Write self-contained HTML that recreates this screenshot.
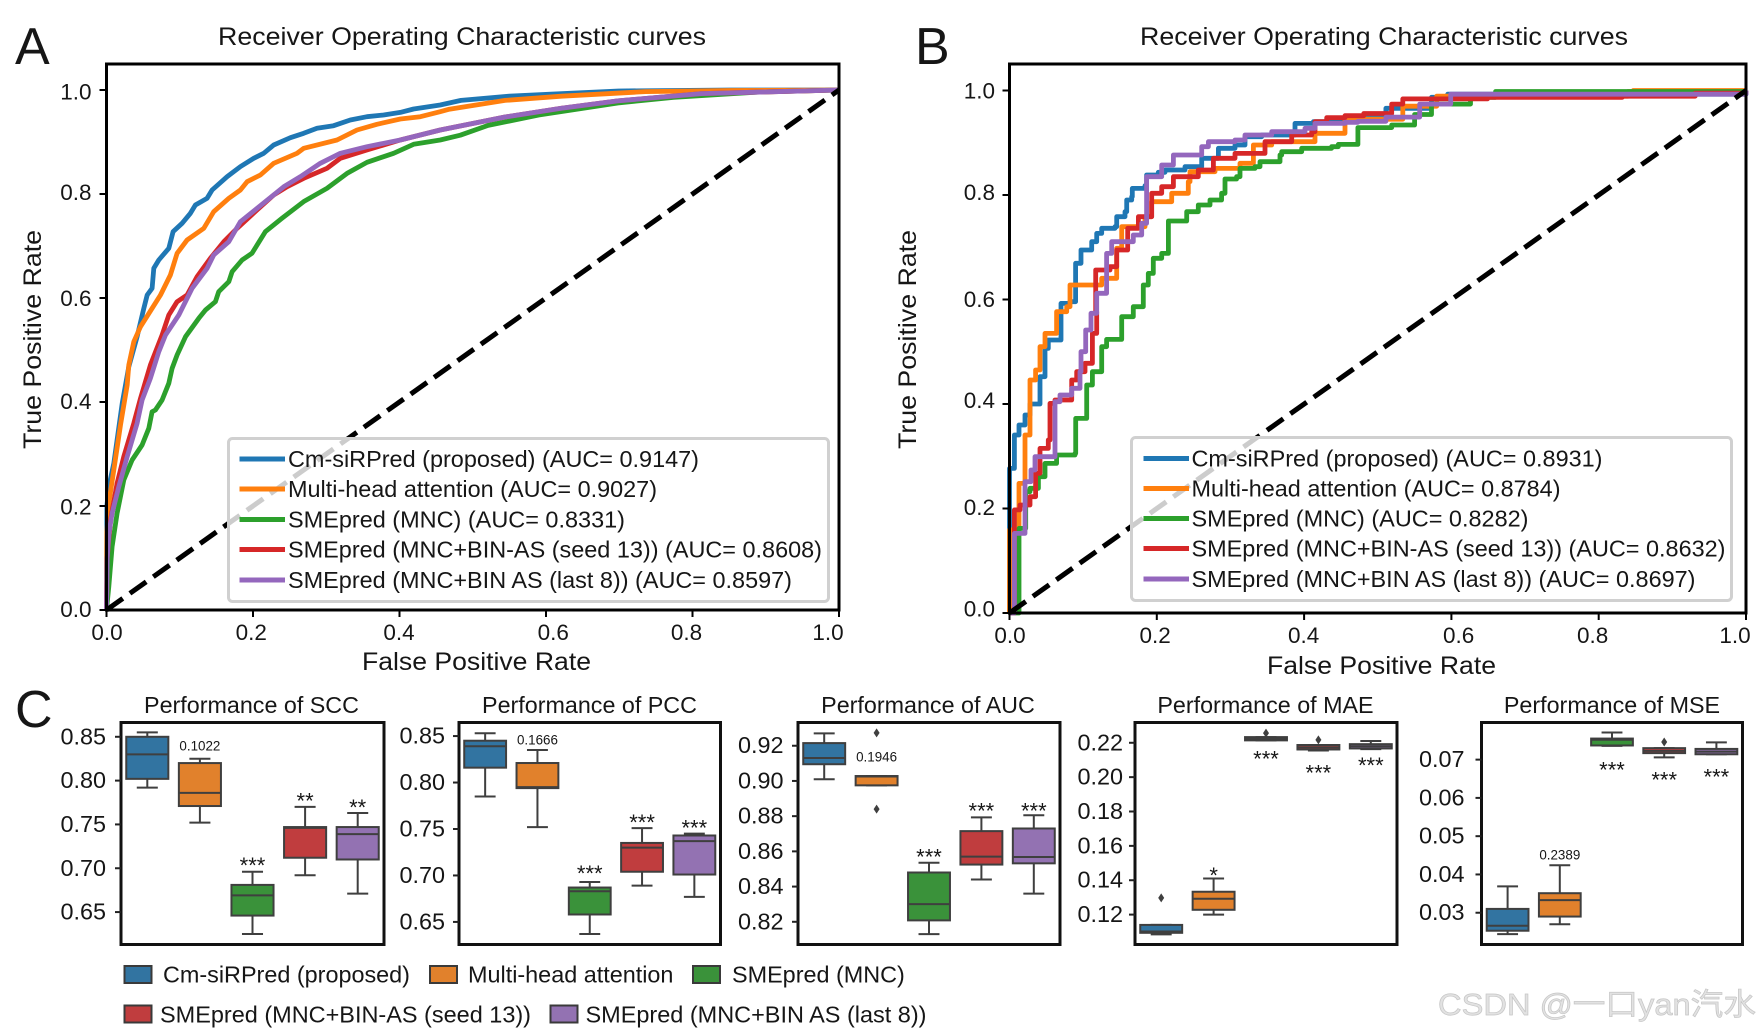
<!DOCTYPE html>
<html lang="en">
<head>
<meta charset="utf-8">
<title>ROC curves and performance boxplots</title>
<style>
html,body{margin:0;padding:0;background:#fff;}
svg{display:block;filter:blur(0.35px);}
text{font-family:"Liberation Sans","Noto Sans CJK SC",sans-serif;fill:#161616;}
</style>
</head>
<body>
<svg id="figure" xmlns="http://www.w3.org/2000/svg" width="1762" height="1034" viewBox="0 0 1762 1034">
<rect x="0" y="0" width="1762" height="1034" fill="#fff"/>

<text x="15" y="64" font-size="52">A</text>
<text x="915" y="64" font-size="52">B</text>
<text x="15" y="727" font-size="52">C</text>

<g id="panel-a">
  <text x="218" y="45" font-size="25" textLength="488" lengthAdjust="spacingAndGlyphs">Receiver Operating Characteristic curves</text>
  <text x="362" y="670" font-size="25" textLength="229" lengthAdjust="spacingAndGlyphs">False Positive Rate</text>
  <text transform="translate(41,449) rotate(-90)" font-size="25" textLength="219" lengthAdjust="spacingAndGlyphs">True Positive Rate</text>
  <g id="plot-a"></g>
  <g>
    <rect x="228.5" y="438.5" width="600" height="163" rx="4" fill="#fff" fill-opacity="0.8" stroke="#d0d0d0" stroke-width="3"/>
    <line x1="239.5" x2="285" y1="459" y2="459" stroke="#1f77b4" stroke-width="5"/>
    <text x="288" y="467" font-size="23" textLength="411" lengthAdjust="spacingAndGlyphs">Cm-siRPred (proposed) (AUC= 0.9147)</text>
    <line x1="239.5" x2="285" y1="489" y2="489" stroke="#ff7f0e" stroke-width="5"/>
    <text x="288" y="497" font-size="23" textLength="369" lengthAdjust="spacingAndGlyphs">Multi-head attention (AUC= 0.9027)</text>
    <line x1="239.5" x2="285" y1="519.5" y2="519.5" stroke="#2ca02c" stroke-width="5"/>
    <text x="288" y="527.5" font-size="23" textLength="337" lengthAdjust="spacingAndGlyphs">SMEpred (MNC) (AUC= 0.8331)</text>
    <line x1="239.5" x2="285" y1="549.5" y2="549.5" stroke="#d62728" stroke-width="5"/>
    <text x="288" y="557.5" font-size="23" textLength="534" lengthAdjust="spacingAndGlyphs">SMEpred (MNC+BIN-AS (seed 13)) (AUC= 0.8608)</text>
    <line x1="239.5" x2="285" y1="580" y2="580" stroke="#9467bd" stroke-width="5"/>
    <text x="288" y="588" font-size="23" textLength="504" lengthAdjust="spacingAndGlyphs">SMEpred (MNC+BIN AS (last 8)) (AUC= 0.8597)</text>
  </g>
</g>

<g id="panel-b">
  <text x="1140" y="45" font-size="25" textLength="488" lengthAdjust="spacingAndGlyphs">Receiver Operating Characteristic curves</text>
  <text x="1267" y="674" font-size="25" textLength="229" lengthAdjust="spacingAndGlyphs">False Positive Rate</text>
  <text transform="translate(916,449) rotate(-90)" font-size="25" textLength="219" lengthAdjust="spacingAndGlyphs">True Positive Rate</text>
  <g id="plot-b"></g>
  <g>
    <rect x="1131.5" y="437.5" width="600" height="163" rx="4" fill="#fff" fill-opacity="0.8" stroke="#d0d0d0" stroke-width="3"/>
    <line x1="1143.5" x2="1189" y1="458.5" y2="458.5" stroke="#1f77b4" stroke-width="5"/>
    <text x="1191.5" y="466.5" font-size="23" textLength="411" lengthAdjust="spacingAndGlyphs">Cm-siRPred (proposed) (AUC= 0.8931)</text>
    <line x1="1143.5" x2="1189" y1="488.5" y2="488.5" stroke="#ff7f0e" stroke-width="5"/>
    <text x="1191.5" y="496.5" font-size="23" textLength="369" lengthAdjust="spacingAndGlyphs">Multi-head attention (AUC= 0.8784)</text>
    <line x1="1143.5" x2="1189" y1="518.5" y2="518.5" stroke="#2ca02c" stroke-width="5"/>
    <text x="1191.5" y="526.5" font-size="23" textLength="337" lengthAdjust="spacingAndGlyphs">SMEpred (MNC) (AUC= 0.8282)</text>
    <line x1="1143.5" x2="1189" y1="548.5" y2="548.5" stroke="#d62728" stroke-width="5"/>
    <text x="1191.5" y="556.5" font-size="23" textLength="534" lengthAdjust="spacingAndGlyphs">SMEpred (MNC+BIN-AS (seed 13)) (AUC= 0.8632)</text>
    <line x1="1143.5" x2="1189" y1="579" y2="579" stroke="#9467bd" stroke-width="5"/>
    <text x="1191.5" y="587" font-size="23" textLength="504" lengthAdjust="spacingAndGlyphs">SMEpred (MNC+BIN AS (last 8)) (AUC= 0.8697)</text>
  </g>
</g>

<g id="panel-c">
  <text x="251.5" y="713" font-size="23.3" text-anchor="middle">Performance of SCC</text>
  <text x="589.5" y="713" font-size="23.3" text-anchor="middle">Performance of PCC</text>
  <text x="928" y="713" font-size="23.3" text-anchor="middle">Performance of AUC</text>
  <text x="1265.5" y="713" font-size="23.3" text-anchor="middle">Performance of MAE</text>
  <text x="1612" y="713" font-size="23.3" text-anchor="middle">Performance of MSE</text>
  <g id="box-scc"></g>
  <g id="box-pcc"></g>
  <g id="box-auc"></g>
  <g id="box-mae"></g>
  <g id="box-mse"></g>
  <g>
    <rect x="124.5" y="966" width="27" height="17" fill="#3274a1" stroke="#3a3a3a" stroke-width="2"/>
    <text x="163" y="982.5" font-size="23.4">Cm-siRPred (proposed)</text>
    <rect x="430" y="966" width="27" height="17" fill="#e1812c" stroke="#3a3a3a" stroke-width="2"/>
    <text x="468" y="982.5" font-size="23.4">Multi-head attention</text>
    <rect x="693" y="966" width="27" height="17" fill="#3a923a" stroke="#3a3a3a" stroke-width="2"/>
    <text x="732" y="982.5" font-size="23.4">SMEpred (MNC)</text>
    <rect x="124.5" y="1005.5" width="27" height="17" fill="#c03d3e" stroke="#3a3a3a" stroke-width="2"/>
    <text x="160" y="1022.5" font-size="23.4" textLength="371" lengthAdjust="spacingAndGlyphs">SMEpred (MNC+BIN-AS (seed 13))</text>
    <rect x="550.5" y="1005.5" width="27" height="17" fill="#9372b2" stroke="#3a3a3a" stroke-width="2"/>
    <text x="585.5" y="1022.5" font-size="23.4" textLength="341" lengthAdjust="spacingAndGlyphs">SMEpred (MNC+BIN AS (last 8))</text>
  </g>
</g>

<text x="1438" y="1015" font-size="30.5" textLength="318" lengthAdjust="spacingAndGlyphs" style="fill:#e2e2e2;stroke:#c6c6c6;stroke-width:0.7;">CSDN @一口yan汽水</text>
</svg>

<script>
// ---------- ROC tick labels ----------
const rocTickLabels = ['0.0', '0.2', '0.4', '0.6', '0.8', '1.0'];
const rocTickValues = [0, 0.2, 0.4, 0.6, 0.8, 1];

// ---------- ROC panel A ----------
const aBlueFpr = [0,.0005,.0032,.01,.0214,.0305,.0418,.0509,.0555,.0623,.0646,.0714,.085,.0909,.1032,.1146,.1214,.1373,.1441,.1646,.1828,.201,.2146,.2283,.251,.2692,.2874,.3101,.3329,.3556,.3783,.4011,.4192,.4556,.484,.55,.607,.699,.852,1];
const aBlueTpr = [0,.2,.2372,.282,.3974,.4679,.5256,.58,.6058,.6186,.6571,.6731,.6955,.7276,.7436,.7628,.7788,.7917,.8077,.8333,.8526,.8686,.8782,.8942,.9083,.9167,.9263,.9314,.9423,.9487,.9519,.957,.9634,.9712,.98,.988,.992,.998,1,1];
const aOrangeFpr = [0,.0005,.0032,.01,.0191,.0282,.0305,.0373,.0464,.0623,.0737,.0873,.0964,.11,.1328,.1464,.1669,.1828,.1919,.2101,.2283,.2601,.2692,.3147,.342,.3692,.4011,.4284,.4556,.468,.544,.621,.736,.851,1];
const aOrangeTpr = [0,.15,.2052,.2692,.3558,.4327,.4711,.516,.5449,.5801,.6058,.6442,.6859,.7115,.734,.766,.7917,.8077,.8237,.8365,.859,.8782,.8878,.9038,.923,.934,.9442,.9487,.9583,.963,.98,.988,.997,.999,1];
const aGreenFpr = [0,.0032,.0077,.0145,.0236,.035,.0486,.0577,.0623,.0668,.0759,.085,.0896,.0964,.1078,.126,.1351,.1487,.1532,.1669,.1714,.1851,.1987,.2169,.2396,.2692,.301,.3283,.3556,.392,.4192,.4556,.483,.521,.59,.698,.774,.889,1];
const aGreenTpr = [0,.0449,.1218,.186,.25,.2885,.3173,.3494,.3814,.3846,.4038,.4359,.4647,.4904,.5256,.5609,.5769,.5929,.6122,.6314,.6506,.6731,.6859,.7276,.7532,.7853,.8109,.8397,.8609,.8782,.8955,.9038,.913,.932,.952,.975,.986,.996,1];
const aRedFpr = [0,.0009,.0054,.0145,.0236,.0373,.0464,.06,.0759,.085,.0964,.11,.1237,.1419,.1601,.1783,.2055,.2283,.2465,.2692,.301,.3192,.3556,.4011,.4556,.544,.621,.698,.812,1];
const aRedTpr = [0,.1,.1731,.2436,.295,.359,.407,.4711,.5288,.5673,.5929,.6058,.641,.6763,.7083,.734,.7692,.798,.8141,.8301,.8494,.8686,.8846,.9038,.923,.948,.965,.979,.993,1];
const aPurpleFpr = [0,.0009,.0036,.0077,.0168,.0282,.0418,.0486,.06,.0714,.0805,.0987,.1169,.1373,.1464,.1669,.1828,.2055,.242,.2646,.2919,.3192,.3556,.4011,.4556,.544,.621,.698,.812,1];
const aPurpleTpr = [0,.1,.15,.1859,.2372,.295,.359,.4038,.4455,.4968,.5288,.5673,.6186,.6571,.6827,.7083,.7468,.7724,.8141,.8333,.859,.8782,.891,.9038,.923,.948,.965,.979,.993,1];

// ---------- ROC panel B ----------
const bBlueFpr = [0,0,.0066,.0129,.0211,.0279,.0414,.0482,.0482,.0527,.0699,.0822,.0898,.0898,.0971,.0971,.1116,.1116,.1184,.1252,.1433,.1455,.1568,.1591,.1659,.1668,.184,.1862,.2021,.2111,.2383,.2609,.2836,.3062,.3198,.3424,.3877,.3877,.4126,.4555,.481,.511,.573,.595,1];
const bBlueTpr = [0,.2768,.3406,.3598,.3789,.4,.4523,.4523,.5065,.5225,.5926,.5958,.6213,.6692,.6756,.6947,.6979,.7107,.7266,.7362,.7394,.7585,.7681,.7904,.7968,.8127,.8178,.8383,.8434,.8478,.8542,.8702,.8893,.8957,.9116,.9148,.9308,.9371,.9403,.9467,.949,.966,.987,.993,1];
const bOrangeFpr = [0,0,.0129,.0211,.0279,.0355,.0414,.0482,.064,.0776,.0822,.1161,.1252,.1455,.1455,.1523,.184,.193,.2202,.2428,.2451,.279,.3107,.313,.3311,.3311,.356,.3831,.4148,.4555,.481,.534,.58,.84,.847,1];
const bOrangeTpr = [0,.159,.2481,.3406,.4459,.465,.5097,.5352,.5767,.5862,.6277,.6277,.6405,.6469,.6979,.7394,.7585,.7872,.8032,.8255,.8446,.851,.851,.8606,.8638,.8957,.902,.902,.918,.9435,.945,.97,.989,.998,1,1];
const bGreenFpr = [0,.0129,.022,.022,.0279,.0392,.0482,.064,.089,.0899,.1048,.1048,.1125,.1252,.1252,.1319,.1523,.1523,.1681,.1681,.1817,.1817,.1885,.1885,.1953,.2066,.2157,.2157,.236,.2406,.2564,.2564,.2722,.288,.2926,.3084,.313,.3333,.3401,.3673,.3696,.3967,.4374,.4465,.473,.473,.519,.55,.573,.626,.66,1];
const bGreenTpr = [0,.162,.1875,.2322,.2386,.2609,.2864,.3023,.3055,.3725,.3821,.4363,.4618,.4618,.5097,.5237,.5352,.5671,.5671,.5862,.5894,.6277,.6277,.65,.6788,.6883,.6979,.7502,.7502,.7681,.7713,.7808,.7904,.8032,.8306,.8351,.851,.8542,.8638,.8765,.8829,.8893,.8925,.8969,.901,.929,.934,.954,.974,.987,.998,1];
const bRedFpr = [0,.0066,.0066,.0143,.0279,.0355,.0355,.0414,.0527,.055,.0618,.0844,.0844,.0912,.1025,.1125,.1125,.1184,.1184,.117,.1365,.1455,.1605,.1605,.175,.1931,.2066,.2225,.2564,.2768,.3062,.3469,.3469,.3831,.4103,.4148,.4307,.4555,.481,.519,.534,.588,.649,.832,.931,1];
const bRedTpr = [0,0,.1973,.2067,.2226,.2226,.2673,.3151,.3311,.4012,.4076,.414,.4459,.4618,.4778,.5001,.5352,.5352,.5767,.6564,.6628,.6947,.7043,.7362,.7585,.8032,.8159,.8351,.8478,.8702,.8797,.8829,.902,.9148,.9212,.9403,.948,.9518,.956,.974,.984,.984,.987,.989,.995,1];
const bPurpleFpr = [0,.0066,.0066,.0211,.0211,.0292,.0346,.0618,.0618,.0686,.0844,.0957,.0971,.1034,.1107,.1184,.1184,.1319,.1319,.1387,.1681,.1795,.1862,.1862,.2066,.2066,.2225,.2225,.2609,.27,.3062,.3198,.356,.4012,.4148,.4555,.473,.511,.557,.599,1];
const bPurpleTpr = [0,0,.1524,.1971,.2513,.2736,.2992,.3151,.4044,.4172,.43,.4618,.5001,.5416,.5735,.5799,.6118,.6277,.6883,.7107,.7234,.7458,.7713,.8351,.8446,.8574,.8606,.8765,.8925,.902,.9052,.9148,.9212,.9276,.9371,.9391,.941,.949,.974,.993,1];

// ---------- Box plot categories ----------
const boxCategories = ['Cm-siRPred (proposed)', 'Multi-head attention', 'SMEpred (MNC)', 'SMEpred (MNC+BIN-AS (seed 13))', 'SMEpred (MNC+BIN AS (last 8))'];

// ---------- SCC ----------
const sccTicks = ['0.85', '0.80', '0.75', '0.70', '0.65'];
const sccRange = [.613, .8663];
const sccLow = [.792, .752, .625, .692, .671];
const sccQ1 = [.802, .771, .646, .712, .71];
const sccMedian = [.83, .786, .669, .746, .739];
const sccQ3 = [.85, .82, .681, .747, .747];
const sccHigh = [.855, .825, .696, .77, .763];
const sccFlierCats = [];
const sccFlierVals = [];
const sccNotes = ['', '0.1022', '***', '**', '**'];
const sccNoteAt = [0, .8398, .709, .7827, .7752];

// ---------- PCC ----------
const pccTicks = ['0.85', '0.80', '0.75', '0.70', '0.65'];
const pccRange = [.6257, .8646];
const pccLow = [.785, .752, .637, .689, .677];
const pccQ1 = [.816, .794, .658, .704, .701];
const pccMedian = [.839, .795, .683, .73, .737];
const pccQ3 = [.845, .821, .687, .735, .743];
const pccHigh = [.853, .835, .693, .751, .745];
const pccFlierCats = [];
const pccFlierVals = [];
const pccNotes = ['', '0.1666', '***', '***', '***'];
const pccNoteAt = [0, .846, .7076, .7625, .757];

// ---------- AUC ----------
const aucTicks = ['0.92', '0.90', '0.88', '0.86', '0.84', '0.82'];
const aucRange = [.8071, .9332];
const aucLow = [.901, .8975, .813, .844, .836];
const aucQ1 = [.9095, .8975, .8208, .8525, .8532];
const aucMedian = [.913, .9025, .83, .857, .8568];
const aucQ3 = [.9215, .9028, .848, .8715, .873];
const aucHigh = [.927, .9028, .8535, .8793, .8805];
const aucFlierCats = [1, 1];
const aucFlierVals = [.9273, .884];
const aucNotes = ['', '0.1946', '***', '***', '***'];
const aucNoteAt = [0, .9138, .8598, .8858, .8858];

// ---------- MAE ----------
const maeTicks = ['0.22', '0.20', '0.18', '0.16', '0.14', '0.12'];
const maeRange = [.1026, .2318];
const maeLow = [.1085, .12, .2214, .2155, .2163];
const maeQ1 = [.1094, .1228, .2214, .2161, .2167];
const maeMedian = [.1102, .1292, .2223, .2173, .218];
const maeQ3 = [.114, .1333, .2233, .2187, .2192];
const maeHigh = [.114, .141, .2233, .2187, .221];
const maeFlierCats = [0, 2, 3];
const maeFlierVals = [.1297, .2256, .2217];
const maeNotes = ['', '*', '***', '***', '***'];
const maeNoteAt = [0, .1457, .2136, .2055, .2098];

// ---------- MSE ----------
const mseTicks = ['0.07', '0.06', '0.05', '0.04', '0.03'];
const mseRange = [.0217, .0797];
const mseLow = [.0244, .027, .0736, .0706, .0714];
const mseQ1 = [.0253, .029, .0737, .0717, .0714];
const mseMedian = [.0266, .0333, .0752, .0723, .0721];
const mseQ3 = [.031, .0351, .0755, .073, .0728];
const mseHigh = [.0369, .0424, .0771, .073, .0745];
const mseFlierCats = [3];
const mseFlierVals = [.0746];
const mseNotes = ['', '0.2389', '***', '***', '***'];
const mseNoteAt = [0, .0452, .0687, .066, .0668];

const SVGNS = 'http://www.w3.org/2000/svg';
const rocColors = ['#1f77b4', '#ff7f0e', '#2ca02c', '#d62728', '#9467bd'];
const rocSeriesNames = ['proposed', 'attention', 'mnc', 'seed13', 'last8'];
const boxColors = ['#3274a1', '#e1812c', '#3a923a', '#c03d3e', '#9372b2'];
const LINE = '#3f3f3f';

function make(parent, tag, attrs, text) {
  const el = document.createElementNS(SVGNS, tag);
  for (const k in attrs) el.setAttribute(k, attrs[k]);
  if (text !== undefined) el.textContent = text;
  parent.appendChild(el);
  return el;
}
function linear(d0, d1, r0, r1) {
  return v => r0 + (v - d0) / (d1 - d0) * (r1 - r0);
}

function drawRoc(groupId, box, yLabelRight, xLabelBase, xLabelNudge, yLabelNudge, series, stepped) {
  const g = document.getElementById(groupId);
  const sx = linear(0, 1, box.left, box.right);
  const sy = linear(0, 1, box.zero, box.one);
  series.forEach((s, i) => {
    let d = 'M' + sx(s[0][0]).toFixed(1) + ' ' + sy(s[1][0]).toFixed(1);
    for (let k = 1; k < s[0].length; k++) {
      const px = sx(s[0][k]).toFixed(1);
      const py = sy(s[1][k]).toFixed(1);
      d += stepped ? ' H' + px + ' V' + py : ' L' + px + ' ' + py;
    }
    const curve = make(g, 'path', { d: d, fill: 'none', stroke: rocColors[i], 'stroke-width': 4.8, 'stroke-linejoin': 'round' });
    
    
  });
  const diag = make(g, 'line', { x1: sx(0), y1: sy(0), x2: sx(1), y2: sy(1), stroke: '#000', 'stroke-width': 5, 'stroke-dasharray': '20 8.7' });
  
  
  const frame = make(g, 'rect', { x: box.left, y: box.top, width: box.right - box.left, height: box.zero - box.top, fill: 'none', stroke: '#000', 'stroke-width': 3 });
  
  
  rocTickValues.forEach((v, i) => {
    const xt = make(g, 'line', { x1: sx(v), x2: sx(v), y1: box.zero, y2: box.zero + 7, stroke: '#000', 'stroke-width': 2 });
    
    
    const yt = make(g, 'line', { x1: box.left - 7, x2: box.left, y1: sy(v), y2: sy(v), stroke: '#000', 'stroke-width': 2 });
    
    
    const xl = make(g, 'text', { x: sx(v) + xLabelNudge[i], y: xLabelBase, 'font-size': 22.5, 'text-anchor': 'middle' }, rocTickLabels[i]);
    
    
    const yl = make(g, 'text', { x: yLabelRight, y: sy(v) + 8 + yLabelNudge[i], 'font-size': 22.5, 'text-anchor': 'end' }, rocTickLabels[i]);
    
    
  });
}

function drawBoxes(groupId, box, labelRight, range, ticks, low, q1, median, q3, high, flierCats, flierVals, notes, noteAt) {
  const g = document.getElementById(groupId);
  const sy = linear(range[0], range[1], box.bottom, box.top);
  const sx = linear(-0.5, boxCategories.length - 0.5, box.left, box.right);
  const band = (box.right - box.left) / boxCategories.length;
  const hw = band * 0.4;
  const cap = band * 0.2;
  boxCategories.forEach((c, i) => {
    const cx = sx(i);
    const whisk = make(g, 'path', {
      d: 'M' + cx + ' ' + sy(high[i]) + ' V' + sy(q3[i]) + ' M' + cx + ' ' + sy(q1[i]) + ' V' + sy(low[i]) +
         ' M' + (cx - cap) + ' ' + sy(high[i]) + ' H' + (cx + cap) + ' M' + (cx - cap) + ' ' + sy(low[i]) + ' H' + (cx + cap),
      fill: 'none', stroke: LINE, 'stroke-width': 2
    });
    
    
    const r = make(g, 'rect', { x: cx - hw, y: sy(q3[i]), width: hw * 2, height: sy(q1[i]) - sy(q3[i]), fill: boxColors[i], stroke: LINE, 'stroke-width': 2 });
    
    
    const m = make(g, 'line', { x1: cx - hw, x2: cx + hw, y1: sy(median[i]), y2: sy(median[i]), stroke: LINE, 'stroke-width': 2 });
    
    
    if (notes[i]) {
      const isStar = notes[i].indexOf('*') === 0;
      const size = isStar ? 22 : 13.4;
      const t = make(g, 'text', { x: cx, y: sy(noteAt[i]) + (isStar ? 12.8 : 4.8), 'font-size': size, 'text-anchor': 'middle' }, notes[i]);
      
      
    }
  });
  flierCats.forEach((c, i) => {
    const cx = sx(c), cy = sy(flierVals[i]);
    const f = make(g, 'polygon', { points: [cx, cy - 4.5, cx + 3, cy, cx, cy + 4.5, cx - 3, cy].join(','), fill: LINE });
    
    
  });
  const frame = make(g, 'rect', { x: box.left, y: box.top, width: box.right - box.left, height: box.bottom - box.top, fill: 'none', stroke: '#111', 'stroke-width': 3 });
  
  
  ticks.forEach(label => {
    const v = parseFloat(label);
    const tk = make(g, 'line', { x1: box.left - 6, x2: box.left, y1: sy(v), y2: sy(v), stroke: '#222', 'stroke-width': 2 });
    
    
    const tl = make(g, 'text', { x: labelRight, y: sy(v) + 7.5, 'font-size': 23.4, 'text-anchor': 'end' }, label);
    
    
  });
}

const labelNudge = [0.5, -1.7, -0.5, 7.3, -6, -11];
const yNudgeA = [-0.9, 0.4, -0.9, 0, -2, 1.3];
const yNudgeB = [-4.3, -1.3, -4, -0.4, -3, 0];
drawRoc('plot-a', { left: 106.5, right: 839, top: 64, zero: 610, one: 90 }, 91.5, 640, labelNudge, yNudgeA,
  [[aBlueFpr, aBlueTpr], [aOrangeFpr, aOrangeTpr], [aGreenFpr, aGreenTpr], [aRedFpr, aRedTpr], [aPurpleFpr, aPurpleTpr]], false);
drawRoc('plot-b', { left: 1009.5, right: 1746, top: 64, zero: 613, one: 90.5 }, 995, 643, labelNudge, yNudgeB,
  [[bBlueFpr, bBlueTpr], [bOrangeFpr, bOrangeTpr], [bGreenFpr, bGreenTpr], [bRedFpr, bRedTpr], [bPurpleFpr, bPurpleTpr]], true);

drawBoxes('box-scc', { left: 121, right: 384, top: 722.5, bottom: 944.5 }, 106, sccRange, sccTicks, sccLow, sccQ1, sccMedian, sccQ3, sccHigh, sccFlierCats, sccFlierVals, sccNotes, sccNoteAt);
drawBoxes('box-pcc', { left: 459, right: 720.5, top: 722.5, bottom: 944.5 }, 445, pccRange, pccTicks, pccLow, pccQ1, pccMedian, pccQ3, pccHigh, pccFlierCats, pccFlierVals, pccNotes, pccNoteAt);
drawBoxes('box-auc', { left: 798, right: 1060, top: 722.5, bottom: 944.5 }, 783.5, aucRange, aucTicks, aucLow, aucQ1, aucMedian, aucQ3, aucHigh, aucFlierCats, aucFlierVals, aucNotes, aucNoteAt);
drawBoxes('box-mae', { left: 1135, right: 1397, top: 722.5, bottom: 944.5 }, 1123, maeRange, maeTicks, maeLow, maeQ1, maeMedian, maeQ3, maeHigh, maeFlierCats, maeFlierVals, maeNotes, maeNoteAt);
drawBoxes('box-mse', { left: 1481.5, right: 1742.5, top: 722.5, bottom: 944.5 }, 1464.5, mseRange, mseTicks, mseLow, mseQ1, mseMedian, mseQ3, mseHigh, mseFlierCats, mseFlierVals, mseNotes, mseNoteAt);
</script>
</body>
</html>
